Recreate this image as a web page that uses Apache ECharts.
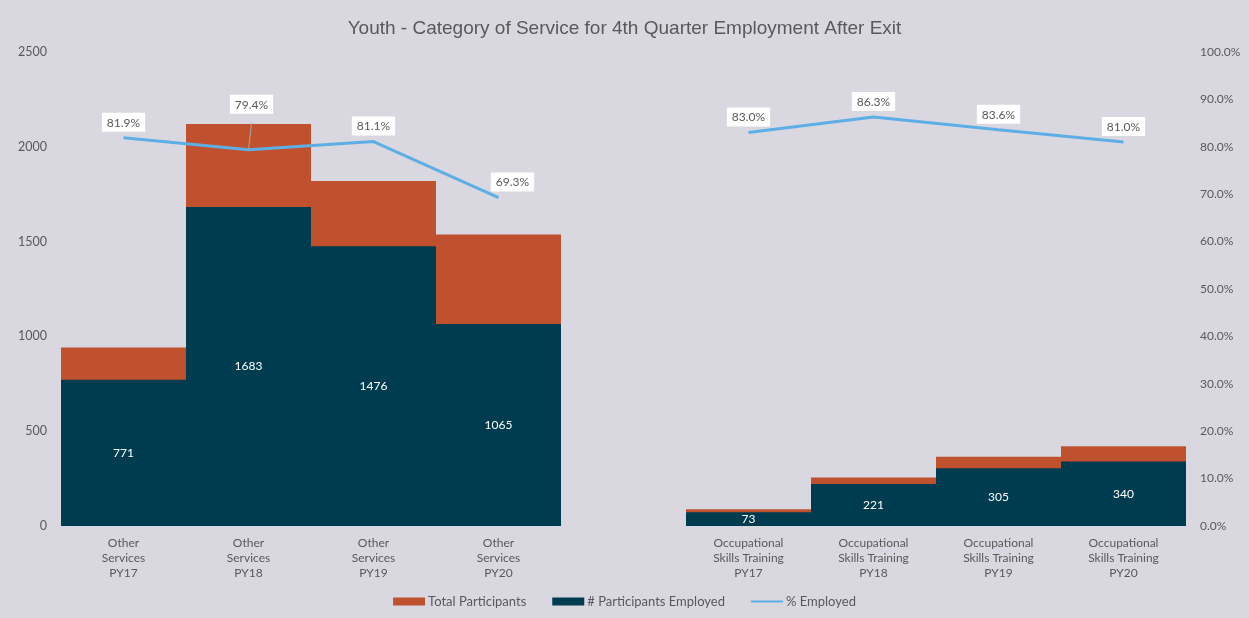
<!DOCTYPE html>
<html>
<head>
<meta charset="utf-8">
<title>Youth - Category of Service for 4th Quarter Employment After Exit</title>
<script src="https://cdn.jsdelivr.net/npm/echarts@6/dist/echarts.min.js"></script>
<style>
  html, body { margin: 0; padding: 0; background: #d9d8e1; }
  #chart { width: 1249px; height: 618px; }
</style>
</head>
<body>
<div id="chart"></div>
<script>
// Categories: two service groups over four program years, with an empty slot between them
const categories = [
  'Other\nServices\nPY17', 'Other\nServices\nPY18', 'Other\nServices\nPY19', 'Other\nServices\nPY20',
  '',
  'Occupational\nSkills Training\nPY17', 'Occupational\nSkills Training\nPY18',
  'Occupational\nSkills Training\nPY19', 'Occupational\nSkills Training\nPY20'
];
const totalParticipants = [941, 2120, 1820, 1537, '-', 88, 256, 365, 420];
const participantsEmployed = [771, 1683, 1476, 1065, '-', 73, 221, 305, 340];
const pctEmployed = [81.9, 79.4, 81.1, 69.3, '-', 83.0, 86.3, 83.6, 81.0];
const leftTicks = { min: 0, max: 2500, interval: 500 };
const rightTicks = { min: 0, max: 100, interval: 10 };

const textGray = '#595959';
const bodyFont = 'Lato, "Open Sans", sans-serif';
const lineBlue = '#5eaee6';

// Per-point label tweaks for the percentage line
const pctData = pctEmployed.map((v, i) => {
  if (v === '-') return v;
  if (i === 1) {
    return { value: v, label: { offset: [3, -30] }, labelLine: { show: true } };
  }
  if (i === 3) {
    return { value: v, label: { offset: [14, 0] } };
  }
  return v;
});

const chart = echarts.init(document.getElementById('chart'), null, { renderer: 'canvas' });
chart.setOption({
  backgroundColor: '#d9d8e1',
  animation: false,
  title: {
    text: 'Youth - Category of Service for 4th Quarter Employment After Exit',
    left: 'center',
    top: 14,
    textStyle: { fontFamily: '"Liberation Sans", Arial, sans-serif', fontSize: 19, fontWeight: 'normal', color: textGray }
  },
  legend: {
    bottom: 5,
    left: 'center',
    itemWidth: 32,
    itemHeight: 8,
    itemGap: 26,
    textStyle: { fontFamily: bodyFont, fontSize: 13, color: textGray, padding: [0, 0, 0, -2] },
    data: [
      { name: 'Total Participants', icon: 'rect' },
      { name: '# Participants Employed', icon: 'rect' },
      { name: '% Employed', icon: 'path://M0,3H32V5H0Z', itemStyle: { color: lineBlue } }
    ]
  },
  grid: { left: 61, right: 63, top: 52, bottom: 92 },
  xAxis: {
    type: 'category',
    data: categories,
    axisTick: { show: false },
    axisLine: { show: false },
    axisLabel: { interval: 0, fontFamily: bodyFont, fontSize: 12, color: textGray, lineHeight: 15, margin: 10 }
  },
  yAxis: [
    {
      type: 'value',
      min: leftTicks.min, max: leftTicks.max, interval: leftTicks.interval,
      splitLine: { show: false },
      axisLine: { show: false },
      axisTick: { show: false },
      axisLabel: { fontFamily: bodyFont, fontSize: 12.5, color: textGray, margin: 14, formatter: v => String(v) }
    },
    {
      type: 'value',
      min: rightTicks.min, max: rightTicks.max, interval: rightTicks.interval,
      splitLine: { show: false },
      axisLine: { show: false },
      axisTick: { show: false },
      axisLabel: {
        fontFamily: bodyFont, fontSize: 12, color: textGray, margin: 14,
        formatter: v => v.toFixed(1) + '%'
      }
    }
  ],
  series: [
    {
      name: 'Total Participants',
      type: 'bar',
      data: totalParticipants,
      barCategoryGap: '0%',
      barGap: '-100%',
      itemStyle: { color: '#c0512f' },
      z: 2
    },
    {
      name: '# Participants Employed',
      type: 'bar',
      data: participantsEmployed,
      barCategoryGap: '0%',
      barGap: '-100%',
      itemStyle: { color: '#003c50' },
      label: {
        show: true,
        position: 'inside',
        color: '#ffffff',
        fontFamily: bodyFont,
        fontSize: 12
      },
      z: 3
    },
    {
      name: '% Employed',
      type: 'line',
      yAxisIndex: 1,
      data: pctData,
      connectNulls: false,
      symbol: 'circle',
      symbolSize: 0.01,
      showSymbol: true,
      lineStyle: { color: lineBlue, width: 3 },
      itemStyle: { color: lineBlue },
      label: {
        show: true,
        position: 'top',
        distance: 6,
        formatter: p => p.value.toFixed(1) + '%',
        backgroundColor: '#ffffff',
        padding: [4, 5, 3, 5],
        color: textGray,
        fontFamily: bodyFont,
        fontSize: 12
      },
      labelLine: { show: false, lineStyle: { color: '#a6a6a6', width: 1 } },
      z: 5
    }
  ]
});
</script>
</body>
</html>
